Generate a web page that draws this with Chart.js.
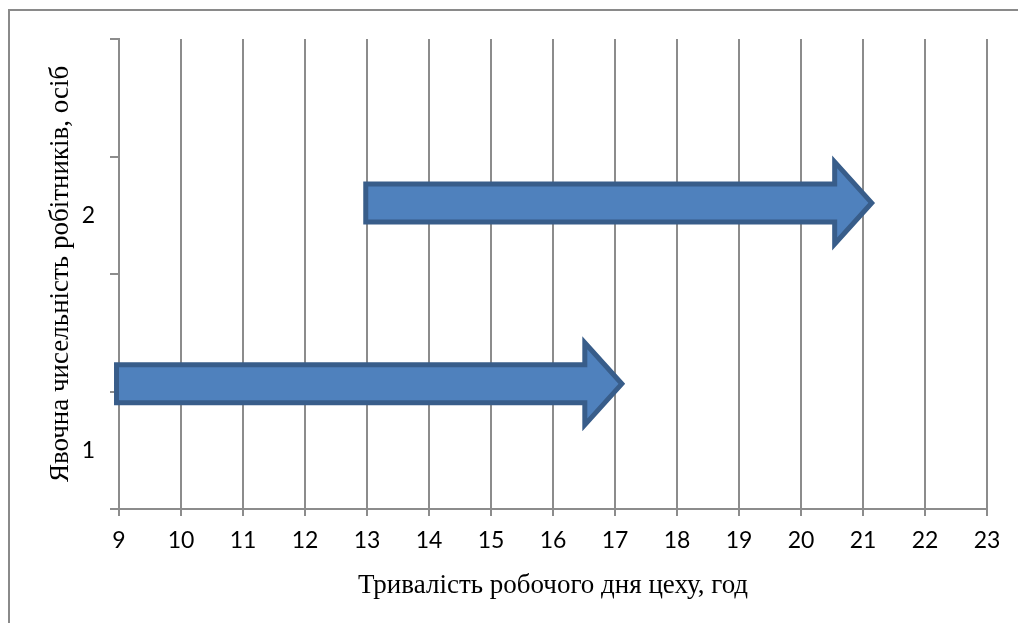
<!DOCTYPE html>
<html>
<head>
<meta charset="utf-8">
<script src="https://cdn.jsdelivr.net/npm/chart.js@4.4.1/dist/chart.umd.min.js"></script>
<style>
  html, body { margin: 0; padding: 0; background: #fff; overflow: hidden; }
  #wrap { position: relative; width: 1018px; height: 623px; overflow: hidden; }
  #frame { position: absolute; left: 8px; top: 9px; width: 1100px; height: 700px;
           border: 2px solid #8a8a8a; box-sizing: border-box; }
  #box { position: absolute; left: 0; top: 0; width: 1018px; height: 623px; }
</style>
</head>
<body>
<div id="wrap">
  <div id="frame"></div>
  <div id="box"><canvas id="chart"></canvas></div>
</div>
<script>
  // ---- дані ----
  const xMin = 9;
  const xMax = 23;
  const yMin = 0;
  const yMax = 4;

  // стрілки: початок, кінець (год), рівень по осі Y
  const arrowStarts = [8.96, 12.98];
  const arrowEnds = [17.11, 21.14];
  const arrowLevels = [1.065, 2.605];

  // позначки на осі Y та підписи між ними
  const yMarkValues = [0, 1, 2, 3, 4];
  const yLabelValues = [0.5, 2.5];
  const yLabelText = ['1', '2'];

  const xTitle = 'Тривалість робочого дня цеху, год';
  const yTitle = 'Явочна чисельність робітників, осіб';

  // ---- стилі ----
  const GRID = '#8c8c8c';
  const FILL = '#4f81bd';
  const STROKE = '#385d8a';

  const datasets = arrowStarts.map((s, i) => ({
    label: 'arrow' + (i + 1),
    data: [{ x: s, y: arrowLevels[i] }, { x: arrowEnds[i], y: arrowLevels[i] }],
    showLine: false,
    pointRadius: 0,
    pointHitRadius: 0
  }));

  // малює стрілку між двома точками набору
  const arrowPlugin = {
    id: 'arrows',
    afterDatasetsDraw(chart) {
      const ctx = chart.ctx;
      const shaftHalf = 19, headHalf = 41, headLen = 37;
      chart.data.datasets.forEach((ds, i) => {
        const pts = chart.getDatasetMeta(i).data;
        if (pts.length < 2) return;
        const x0 = pts[0].x, x1 = pts[1].x, y = pts[0].y;
        const xb = x1 - headLen;
        ctx.save();
        ctx.beginPath();
        ctx.moveTo(x0, y - shaftHalf);
        ctx.lineTo(xb, y - shaftHalf);
        ctx.lineTo(xb, y - headHalf);
        ctx.lineTo(x1, y);
        ctx.lineTo(xb, y + headHalf);
        ctx.lineTo(xb, y + shaftHalf);
        ctx.lineTo(x0, y + shaftHalf);
        ctx.closePath();
        ctx.fillStyle = FILL;
        ctx.fill();
        ctx.lineWidth = 5;
        ctx.lineJoin = 'miter';
        ctx.strokeStyle = STROKE;
        ctx.stroke();
        ctx.restore();
      });
    }
  };

  const tickFont = { family: 'Lato', size: 23 };
  const titleFont = { family: 'Liberation Serif', size: 27 };

  new Chart(document.getElementById('chart'), {
    type: 'scatter',
    data: { datasets },
    options: {
      responsive: true,
      maintainAspectRatio: false,
      animation: false,
      layout: { padding: { top: 39, right: 31, left: 0, bottom: 0 } },
      plugins: { legend: { display: false }, tooltip: { enabled: false } },
      scales: {
        x: {
          type: 'linear',
          min: xMin,
          max: xMax,
          afterFit(s) { s.height = 114; },
          ticks: { stepSize: 1, color: '#000', font: tickFont, padding: 11, maxRotation: 0 },
          grid: { color: GRID, lineWidth: 2, tickLength: 7 },
          border: { color: GRID, width: 2 },
          title: { display: true, text: xTitle, color: '#000', font: titleFont, padding: { top: 0, bottom: 21 } }
        },
        y: {
          type: 'linear',
          min: yMin,
          max: yMax,
          afterFit(s) { s.width = 119; },
          afterBuildTicks(s) {
            s.ticks = yMarkValues.concat(yLabelValues).sort((a, b) => a - b).map(v => ({ value: v }));
          },
          ticks: {
            color: '#000',
            font: tickFont,
            padding: 15,
            autoSkip: false,
            callback(v) {
              const k = yLabelValues.indexOf(v);
              return k >= 0 ? yLabelText[k] : '';
            }
          },
          grid: {
            drawOnChartArea: false,
            tickLength: 9,
            lineWidth: 2,
            tickColor: c => (yMarkValues.includes(c.tick.value) ? GRID : 'rgba(0,0,0,0)')
          },
          border: { color: GRID, width: 2 },
          title: { display: true, text: yTitle, color: '#000', font: titleFont, padding: { top: 45, bottom: 0 } }
        }
      }
    },
    plugins: [arrowPlugin]
  });
</script>
</body>
</html>
